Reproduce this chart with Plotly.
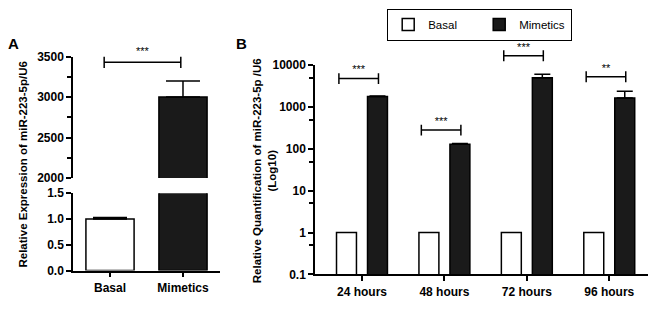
import plotly.graph_objects as go

# ---------------- data ----------------
a_categories = ["Basal", "Mimetics"]
a_values = [1.0, 3000]
a_err_up = [0.03, 200]
a_bracket_y = 3430
a_bracket_label = "***"

b_categories = ["24 hours", "48 hours", "72 hours", "96 hours"]
b_basal = [1, 1, 1, 1]
b_mimetics = [1800, 130, 5000, 1650]
b_mimetics_err = [50, 5, 1100, 750]
b_bracket_y = [4800, 282, 16900, 5300]
b_bracket_label = ["***", "***", "***", "**"]

a_upper_ticks = [2000, 2500, 3000, 3500]
a_lower_ticks = [0.0, 0.5, 1.0, 1.5]
a_lower_ticktext = ["0.0", "0.5", "1.0", "1.5"]
b_ticks = [0.1, 1, 10, 100, 1000, 10000]
b_ticktext = ["0.1", "1", "10", "100", "1000", "10000"]

FONT = "Liberation Sans"
BLACK = "#000000"
DARK = "#1a1a1a"

W, H = 650, 311
def px_x(p):
    return p / W
def px_y(p):
    return (H - p) / H

a_x = list(range(len(a_categories)))
b_x = list(range(len(b_categories)))

fig = go.Figure()

# ---------- panel A ----------
a_colors = ["white", DARK]
for yax in ("y", "y2"):
    fig.add_trace(go.Bar(
        x=a_x, y=a_values, xaxis="x", yaxis=yax,
        width=0.66, offset=-0.33,
        marker=dict(color=a_colors, line=dict(color=BLACK, width=1.5)),
        error_y=dict(type="data", array=a_err_up, arrayminus=[0, 0], symmetric=False,
                     color=BLACK, thickness=1.5, width=17),
        showlegend=False, hoverinfo="skip",
    ))

# bracket A, drawn on a hidden axis sharing the upper-segment scale
bl, br = a_x[0] - 0.08, a_x[1] - 0.03
tick_h = 70
fig.add_trace(go.Scatter(
    x=[bl, bl, bl, br, br, br],
    y=[a_bracket_y - tick_h, a_bracket_y + tick_h, a_bracket_y, a_bracket_y,
       a_bracket_y + tick_h, a_bracket_y - tick_h],
    xaxis="x", yaxis="y4", mode="lines", line=dict(color=BLACK, width=1.5),
    showlegend=False, hoverinfo="skip",
))
fig.add_trace(go.Scatter(
    x=[(bl + br) / 2], y=[a_bracket_y + 125], xaxis="x", yaxis="y4", mode="text",
    text=[a_bracket_label], textfont=dict(family=FONT, size=11, color=BLACK),
    textposition="middle center", showlegend=False, hoverinfo="skip",
))

# ---------- panel B ----------
bw = 0.242
fig.add_trace(go.Bar(
    name="Basal", x=b_x, y=b_basal, xaxis="x2", yaxis="y3",
    width=bw, offset=-0.188 - bw / 2,
    marker=dict(color="white", line=dict(color=BLACK, width=1.5)),
    hoverinfo="skip",
))
fig.add_trace(go.Bar(
    name="Mimetics", x=b_x, y=b_mimetics, xaxis="x2", yaxis="y3",
    width=bw, offset=0.188 - bw / 2,
    marker=dict(color=DARK, line=dict(color=BLACK, width=1.5)),
    error_y=dict(type="data", array=b_mimetics_err, arrayminus=[0] * 4, symmetric=False,
                 color=BLACK, thickness=1.5, width=8),
    hoverinfo="skip",
))

f = 10 ** 0.13
for i, (yv, lab) in zip(b_x, zip(b_bracket_y, b_bracket_label)):
    l, r = i - 0.28, i + 0.2
    fig.add_trace(go.Scatter(
        x=[l, l, l, r, r, r], y=[yv / f, yv * f, yv, yv, yv * f, yv / f],
        xaxis="x2", yaxis="y5", mode="lines", line=dict(color=BLACK, width=1.5),
        showlegend=False, hoverinfo="skip",
    ))
    fig.add_trace(go.Scatter(
        x=[(l + r) / 2], y=[yv * 10 ** 0.19], xaxis="x2", yaxis="y5", mode="text",
        text=[lab], textfont=dict(family=FONT, size=11, color=BLACK),
        showlegend=False, hoverinfo="skip",
    ))

axis_common = dict(showline=True, linecolor=BLACK, linewidth=1.5, ticks="outside",
                   tickcolor=BLACK, tickwidth=1.5, ticklen=5, showgrid=False, zeroline=False,
                   tickfont=dict(family=FONT, size=12, color=BLACK, weight="bold"))
minor_style = dict(ticks="outside", ticklen=4, tickcolor=BLACK, tickwidth=1.5)

# pixel geometry of the axes
A_X0, A_X1 = 73, 220
A_LO_BOT, A_LO_TOP = 276, 195
A_UP_BOT, A_UP_TOP = 179, 52
B_X0, B_X1 = 315, 648
B_BOT, B_TOP = 280, 61
a_up_range = [2000, 3500]
b_log_range = [-1, 4]
# hidden axes extending the same scales up to the top of the figure
a_ext_top = a_up_range[0] + (a_up_range[1] - a_up_range[0]) * A_UP_BOT / (A_UP_BOT - A_UP_TOP)
b_ext_top = b_log_range[0] + (b_log_range[1] - b_log_range[0]) * B_BOT / (B_BOT - B_TOP)

fig.update_layout(
    width=W, height=H, margin=dict(l=0, r=0, t=0, b=0),
    plot_bgcolor="rgba(0,0,0,0)", paper_bgcolor="white", barmode="overlay",
    xaxis=dict(domain=[px_x(A_X0), px_x(A_X1)], range=[-0.507, 1.507], anchor="y",
               tickvals=a_x, ticktext=a_categories, **axis_common),
    yaxis=dict(domain=[px_y(A_LO_BOT), px_y(A_LO_TOP)], range=[0, 1.5], anchor="x",
               tickvals=a_lower_ticks, ticktext=a_lower_ticktext, **axis_common),
    yaxis2=dict(domain=[px_y(A_UP_BOT), px_y(A_UP_TOP)], range=a_up_range, anchor="x",
                tickvals=a_upper_ticks,
                minor=dict(tickvals=[2250, 2750, 3250], **minor_style),
                **axis_common),
    yaxis4=dict(domain=[px_y(A_UP_BOT), 1.0], range=[a_up_range[0], a_ext_top],
                anchor="x", visible=False),
    xaxis2=dict(domain=[px_x(B_X0), px_x(B_X1)], range=[-0.57, 3.47], anchor="y3",
                tickvals=b_x, ticktext=b_categories, **axis_common),
    yaxis3=dict(domain=[px_y(B_BOT), px_y(B_TOP)], type="log", range=b_log_range,
                anchor="x2", tickvals=b_ticks, ticktext=b_ticktext,
                minor=dict(tickvals=[0.5, 5, 50, 500, 5000], **minor_style),
                **axis_common),
    yaxis5=dict(domain=[px_y(B_BOT), 1.0], type="log", range=[b_log_range[0], b_ext_top],
                anchor="x2", visible=False),
    legend=dict(orientation="h", x=px_x(387), y=px_y(2), xanchor="left", yanchor="top",
                bordercolor=BLACK, borderwidth=1.2, bgcolor="white",
                font=dict(family=FONT, size=11.5, color=BLACK), itemwidth=30,
                entrywidthmode="pixels", entrywidth=46),
    annotations=[
        dict(text="<b>A</b>", x=px_x(6), y=px_y(27), xref="paper", yref="paper",
             showarrow=False, font=dict(family=FONT, size=15, color=BLACK)),
        dict(text="<b>B</b>", x=px_x(241), y=px_y(27), xref="paper", yref="paper",
             showarrow=False, font=dict(family=FONT, size=15, color=BLACK)),
        dict(text="<b>Relative Expression of miR-223-5p/U6</b>", x=px_x(15), y=px_y(165),
             xref="paper", yref="paper", showarrow=False, textangle=-90,
             font=dict(family=FONT, size=11.5, color=BLACK)),
        dict(text="<b>Relative Quantification of miR-223-5p /U6<br>(Log10)</b>",
             x=px_x(264), y=px_y(172), xref="paper", yref="paper", showarrow=False,
             textangle=-90, font=dict(family=FONT, size=11.5, color=BLACK)),
    ],
)

fig.write_html("out.html", config={"displayModeBar": False},
               post_script="document.body.style.margin='0';")
